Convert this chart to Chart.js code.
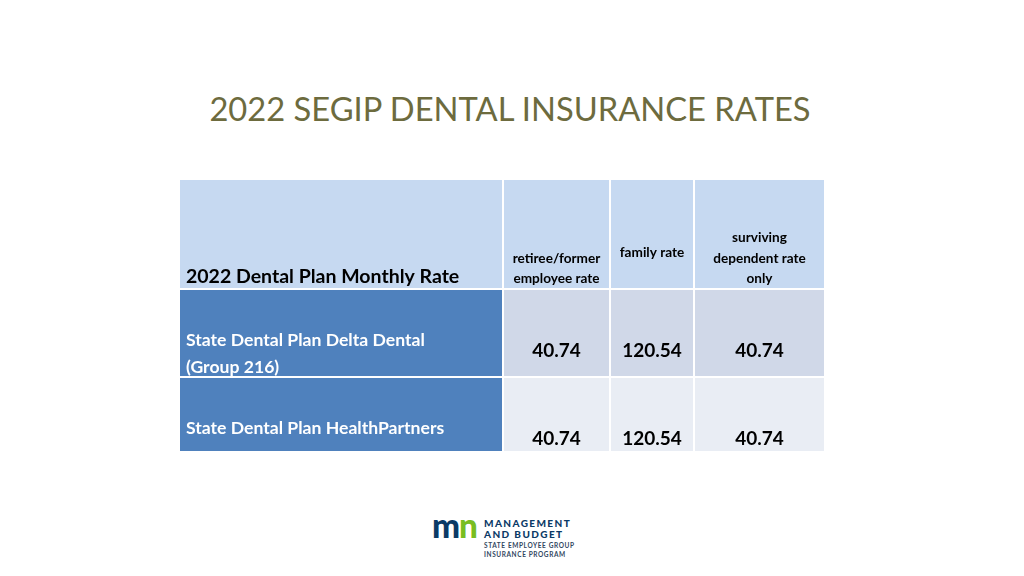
<!DOCTYPE html>
<html>
<head>
<meta charset="utf-8">
<script src="https://cdn.jsdelivr.net/npm/chart.js@4.4.0/dist/chart.umd.min.js"></script>
<style>
html, body { margin: 0; padding: 0; background: #fff; width: 1024px; height: 576px; overflow: hidden; font-family: Lato, sans-serif; }
#title { position: absolute; left: 0; width: 1020px; top: 89px; text-align: center; font-size: 32.7px; line-height: 40px; color: #6d6b3e; white-space: nowrap; }
#tbl { position: absolute; left: 180px; top: 180px; }
.lg { position: absolute; white-space: nowrap; line-height: 1.2; }
</style>
</head>
<body>
<div id="title">2022 SEGIP DENTAL INSURANCE RATES</div>
<canvas id="tbl" width="644" height="271"></canvas>
<div class="lg" style="left:432px;top:503px;font-size:35px;font-weight:900;transform:scaleX(0.95);transform-origin:left top;letter-spacing:-1px"><span style="color:#0b3a66">m</span><span style="color:#78be21">n</span></div>
<div class="lg" style="left:484px;top:517px;font-size:10px;font-weight:900;color:#0b3a66;letter-spacing:1.4px">MANAGEMENT</div>
<div class="lg" style="left:484px;top:528px;font-size:10px;font-weight:900;color:#0b3a66;letter-spacing:1.4px">AND BUDGET</div>
<div class="lg" style="left:484px;top:542px;font-size:6.5px;font-weight:700;color:#33475f;letter-spacing:0.6px">STATE EMPLOYEE GROUP</div>
<div class="lg" style="left:484px;top:551px;font-size:6.5px;font-weight:700;color:#33475f;letter-spacing:0.6px">INSURANCE PROGRAM</div>
<script>
// table content
const headerLabels = ['2022 Dental Plan Monthly Rate', 'retiree/former\nemployee rate', 'family rate', 'surviving\ndependent rate\nonly'];
const plans = ['State Dental Plan Delta Dental\n(Group 216)', 'State Dental Plan HealthPartners'];
const retireeRates = [40.74, 40.74];
const familyRates = [120.54, 120.54];
const survivingRates = [40.74, 40.74];

// layout of the grid (table units = pixels of the canvas)
const colEdges = [[0, 322], [324, 429], [431, 513], [515, 644]];
const rowEdges = [[0, 108], [110, 196], [198, 271]];
const headerColor = '#C6D9F1';
const firstColColor = '#4F81BD';
const bandColors = ['#D0D8E8', '#E9EDF4'];

function rowText(r, c) {
    if (r == 0) return headerLabels[c];
    const p = r - 1;
    if (c == 0) return plans[p];
    return [retireeRates, familyRates, survivingRates][c - 1][p].toFixed(2);
}
function cellColor(r, c) {
    if (r == 0) return headerColor;
    if (c == 0) return firstColColor;
    return bandColors[r - 1];
}

const datasets = rowEdges.map((re, r) => ({
    label: r == 0 ? 'header' : plans[r - 1],
    data: colEdges.map(ce => ({ x: ce, y: (re[0] + re[1]) / 2 })),
    barThickness: re[1] - re[0],
    backgroundColor: colEdges.map((ce, c) => cellColor(r, c)),
    borderWidth: 0,
    inflateAmount: 0,
    grouped: false
}));

const cellText = {
    id: 'cellText',
    afterDatasetsDraw(chart) {
        const ctx = chart.ctx;
        ctx.save();
        rowEdges.forEach((re, r) => {
            chart.getDatasetMeta(r).data.forEach((bar, c) => {
                const left = Math.min(bar.x, bar.base), right = Math.max(bar.x, bar.base);
                const top = bar.y - bar.height / 2, bottom = bar.y + bar.height / 2;
                const lines = rowText(r, c).split('\n');
                ctx.fillStyle = '#000';
                ctx.textBaseline = 'alphabetic';
                if (r == 0 && c == 0) {
                    ctx.font = 'bold 19.5px Lato';
                    ctx.textAlign = 'left';
                    ctx.fillText(lines[0], left + 6, bottom - 5);
                } else if (r == 0) {
                    ctx.font = 'bold 13.6px Lato';
                    ctx.textAlign = 'center';
                    const last = c == 2 ? top + 77 : bottom - 5;
                    lines.forEach((t, i) => ctx.fillText(t, (left + right) / 2, last - (lines.length - 1 - i) * 20.5));
                } else if (c == 0) {
                    ctx.font = 'bold 17.6px Lato';
                    ctx.fillStyle = '#fff';
                    ctx.textAlign = 'left';
                    lines.forEach((t, i) => ctx.fillText(t, left + 6, top + 55.5 + i * 27));
                } else {
                    ctx.font = 'bold 19px Lato';
                    ctx.textAlign = 'center';
                    ctx.fillText(lines[0], (left + right) / 2, top + 67);
                }
            });
        });
        ctx.restore();
    }
};

new Chart(document.getElementById('tbl').getContext('2d'), {
    type: 'bar',
    data: { datasets: datasets },
    options: {
        indexAxis: 'y',
        responsive: false,
        animation: false,
        events: [],
        layout: { padding: 0 },
        scales: {
            x: { type: 'linear', min: 0, max: 644, display: false },
            y: { type: 'linear', min: 0, max: 271, reverse: true, offset: false, display: false }
        },
        plugins: { legend: { display: false }, tooltip: { enabled: false }, title: { display: false } }
    },
    plugins: [cellText]
});
</script>
</body>
</html>
